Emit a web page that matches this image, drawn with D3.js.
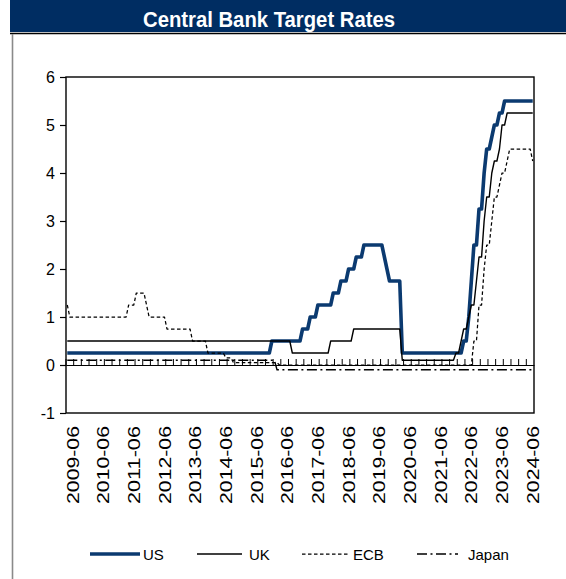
<!DOCTYPE html>
<html>
<head>
<meta charset="utf-8">
<script src="https://cdn.jsdelivr.net/npm/d3@7/dist/d3.min.js"></script>
<style>
  html, body { margin: 0; padding: 0; background: #fff; }
  svg { display: block; font-family: "Liberation Sans", Arial, sans-serif; }
</style>
</head>
<body>
<svg id="chart" width="566" height="579"></svg>
<script>
// Month-end policy rates, April 2009 to June 2024 (one row per calendar year)
const firstYear = 2009, firstMonth = 4, lastYear = 2024, lastMonth = 6;

const usRate = [
  0.25,0.25,0.25,0.25,0.25,0.25,0.25,0.25,0.25,                               // 2009 Apr-Dec
  0.25,0.25,0.25,0.25,0.25,0.25,0.25,0.25,0.25,0.25,0.25,0.25,                // 2010
  0.25,0.25,0.25,0.25,0.25,0.25,0.25,0.25,0.25,0.25,0.25,0.25,                // 2011
  0.25,0.25,0.25,0.25,0.25,0.25,0.25,0.25,0.25,0.25,0.25,0.25,                // 2012
  0.25,0.25,0.25,0.25,0.25,0.25,0.25,0.25,0.25,0.25,0.25,0.25,                // 2013
  0.25,0.25,0.25,0.25,0.25,0.25,0.25,0.25,0.25,0.25,0.25,0.25,                // 2014
  0.25,0.25,0.25,0.25,0.25,0.25,0.25,0.25,0.25,0.25,0.25,0.5,                 // 2015
  0.5,0.5,0.5,0.5,0.5,0.5,0.5,0.5,0.5,0.5,0.5,0.75,                           // 2016
  0.75,0.75,1.0,1.0,1.0,1.25,1.25,1.25,1.25,1.25,1.25,1.5,                    // 2017
  1.5,1.5,1.75,1.75,1.75,2.0,2.0,2.0,2.25,2.25,2.25,2.5,                      // 2018
  2.5,2.5,2.5,2.5,2.5,2.5,2.5,2.25,2.0,1.75,1.75,1.75,                        // 2019
  1.75,1.75,0.25,0.25,0.25,0.25,0.25,0.25,0.25,0.25,0.25,0.25,                // 2020
  0.25,0.25,0.25,0.25,0.25,0.25,0.25,0.25,0.25,0.25,0.25,0.25,                // 2021
  0.25,0.25,0.5,0.5,1.0,1.75,2.5,2.5,3.25,3.25,4.0,4.5,                       // 2022
  4.5,4.75,5.0,5.0,5.25,5.25,5.5,5.5,5.5,5.5,5.5,5.5,                         // 2023
  5.5,5.5,5.5,5.5,5.5,5.5                                                     // 2024 Jan-Jun
];

const ukRate = [
  0.5,0.5,0.5,0.5,0.5,0.5,0.5,0.5,0.5,                                        // 2009
  0.5,0.5,0.5,0.5,0.5,0.5,0.5,0.5,0.5,0.5,0.5,0.5,                            // 2010
  0.5,0.5,0.5,0.5,0.5,0.5,0.5,0.5,0.5,0.5,0.5,0.5,                            // 2011
  0.5,0.5,0.5,0.5,0.5,0.5,0.5,0.5,0.5,0.5,0.5,0.5,                            // 2012
  0.5,0.5,0.5,0.5,0.5,0.5,0.5,0.5,0.5,0.5,0.5,0.5,                            // 2013
  0.5,0.5,0.5,0.5,0.5,0.5,0.5,0.5,0.5,0.5,0.5,0.5,                            // 2014
  0.5,0.5,0.5,0.5,0.5,0.5,0.5,0.5,0.5,0.5,0.5,0.5,                            // 2015
  0.5,0.5,0.5,0.5,0.5,0.5,0.5,0.25,0.25,0.25,0.25,0.25,                       // 2016
  0.25,0.25,0.25,0.25,0.25,0.25,0.25,0.25,0.25,0.25,0.5,0.5,                  // 2017
  0.5,0.5,0.5,0.5,0.5,0.5,0.5,0.75,0.75,0.75,0.75,0.75,                       // 2018
  0.75,0.75,0.75,0.75,0.75,0.75,0.75,0.75,0.75,0.75,0.75,0.75,                // 2019
  0.75,0.75,0.1,0.1,0.1,0.1,0.1,0.1,0.1,0.1,0.1,0.1,                          // 2020
  0.1,0.1,0.1,0.1,0.1,0.1,0.1,0.1,0.1,0.1,0.1,0.25,                           // 2021
  0.25,0.5,0.75,0.75,1.0,1.25,1.25,1.75,2.25,2.25,3.0,3.5,                    // 2022
  3.5,4.0,4.25,4.25,4.5,5.0,5.0,5.25,5.25,5.25,5.25,5.25,                     // 2023
  5.25,5.25,5.25,5.25,5.25,5.25                                               // 2024
];

const ecbRate = [
  1.25,1.0,1.0,1.0,1.0,1.0,1.0,1.0,1.0,                                       // 2009
  1.0,1.0,1.0,1.0,1.0,1.0,1.0,1.0,1.0,1.0,1.0,1.0,                            // 2010
  1.0,1.0,1.0,1.25,1.25,1.25,1.5,1.5,1.5,1.5,1.25,1.0,                        // 2011
  1.0,1.0,1.0,1.0,1.0,1.0,0.75,0.75,0.75,0.75,0.75,0.75,                      // 2012
  0.75,0.75,0.75,0.75,0.5,0.5,0.5,0.5,0.5,0.5,0.25,0.25,                      // 2013
  0.25,0.25,0.25,0.25,0.25,0.15,0.15,0.15,0.05,0.05,0.05,0.05,                // 2014
  0.05,0.05,0.05,0.05,0.05,0.05,0.05,0.05,0.05,0.05,0.05,0.05,                // 2015
  0.05,0.05,0,0,0,0,0,0,0,0,0,0,                                              // 2016
  0,0,0,0,0,0,0,0,0,0,0,0,                                                    // 2017
  0,0,0,0,0,0,0,0,0,0,0,0,                                                    // 2018
  0,0,0,0,0,0,0,0,0,0,0,0,                                                    // 2019
  0,0,0,0,0,0,0,0,0,0,0,0,                                                    // 2020
  0,0,0,0,0,0,0,0,0,0,0,0,                                                    // 2021
  0,0,0,0,0,0,0.5,0.5,1.25,1.25,2.0,2.5,                                      // 2022
  2.5,3.0,3.5,3.5,3.75,4.0,4.0,4.25,4.5,4.5,4.5,4.5,                          // 2023
  4.5,4.5,4.5,4.5,4.5,4.25                                                    // 2024
];

const japanRate = [
  0.1,0.1,0.1,0.1,0.1,0.1,0.1,0.1,0.1,                                        // 2009
  0.1,0.1,0.1,0.1,0.1,0.1,0.1,0.1,0.1,0.1,0.1,0.1,                            // 2010
  0.1,0.1,0.1,0.1,0.1,0.1,0.1,0.1,0.1,0.1,0.1,0.1,                            // 2011
  0.1,0.1,0.1,0.1,0.1,0.1,0.1,0.1,0.1,0.1,0.1,0.1,                            // 2012
  0.1,0.1,0.1,0.1,0.1,0.1,0.1,0.1,0.1,0.1,0.1,0.1,                            // 2013
  0.1,0.1,0.1,0.1,0.1,0.1,0.1,0.1,0.1,0.1,0.1,0.1,                            // 2014
  0.1,0.1,0.1,0.1,0.1,0.1,0.1,0.1,0.1,0.1,0.1,0.1,                            // 2015
  0.1,-0.1,-0.1,-0.1,-0.1,-0.1,-0.1,-0.1,-0.1,-0.1,-0.1,-0.1,                 // 2016
  -0.1,-0.1,-0.1,-0.1,-0.1,-0.1,-0.1,-0.1,-0.1,-0.1,-0.1,-0.1,                // 2017
  -0.1,-0.1,-0.1,-0.1,-0.1,-0.1,-0.1,-0.1,-0.1,-0.1,-0.1,-0.1,                // 2018
  -0.1,-0.1,-0.1,-0.1,-0.1,-0.1,-0.1,-0.1,-0.1,-0.1,-0.1,-0.1,                // 2019
  -0.1,-0.1,-0.1,-0.1,-0.1,-0.1,-0.1,-0.1,-0.1,-0.1,-0.1,-0.1,                // 2020
  -0.1,-0.1,-0.1,-0.1,-0.1,-0.1,-0.1,-0.1,-0.1,-0.1,-0.1,-0.1,                // 2021
  -0.1,-0.1,-0.1,-0.1,-0.1,-0.1,-0.1,-0.1,-0.1,-0.1,-0.1,-0.1,                // 2022
  -0.1,-0.1,-0.1,-0.1,-0.1,-0.1,-0.1,-0.1,-0.1,-0.1,-0.1,-0.1,                // 2023
  -0.1,-0.1,-0.1,-0.1,-0.1,-0.1                                               // 2024
];

const yTicks = [-1, 0, 1, 2, 3, 4, 5, 6];
const seriesNames = ["US", "UK", "ECB", "Japan"];
const titleText = "Central Bank Target Rates";

// Month categories "YYYY-MM"
const months = [];
for (let y = firstYear, m = firstMonth; y < lastYear || (y === lastYear && m <= lastMonth); ) {
  months.push(y + "-" + String(m).padStart(2, "0"));
  m++; if (m > 12) { m = 1; y++; }
}
const xLabels = months.filter(d => d.endsWith("-06"));
const quarterTicks = months.filter((d, i) => i % 3 === 0);

// Styles per series
const styles = {
  US:    { values: usRate,    color: "#0b3a70", width: 3.6, dash: null },
  UK:    { values: ukRate,    color: "#000",    width: 1.4, dash: null },
  ECB:   { values: ecbRate,   color: "#000",    width: 1.25, dash: "3.5,2.5" },
  Japan: { values: japanRate, color: "#000",    width: 1.4, dash: "10,3.5,2,3.5" }
};

const svg = d3.select("#chart");
const W = 566, H = 579;
const plot = { left: 66, right: 534, top: 77, bottom: 413 };

// Frame: title bar, rule and left border
svg.append("rect").attr("x", 10).attr("y", 0).attr("width", W - 10).attr("height", 32).attr("fill", "#002d62");
svg.append("line").attr("x1", 10).attr("x2", W).attr("y1", 33.5).attr("y2", 33.5).attr("stroke", "#000").attr("stroke-width", 1.4);
svg.append("line").attr("x1", 12.5).attr("x2", 12.5).attr("y1", 34).attr("y2", H).attr("stroke", "#8a8a8a").attr("stroke-width", 1.6);
svg.append("text").attr("x", 269).attr("y", 27).attr("text-anchor", "middle")
  .attr("fill", "#fff").attr("font-size", 22.5).attr("font-weight", "bold")
  .attr("textLength", 252).attr("lengthAdjust", "spacingAndGlyphs")
  .text(titleText);

const x = d3.scaleBand().domain(months).range([plot.left, plot.right]).padding(0);
const y = d3.scaleLinear().domain([-1, 6]).range([plot.bottom, plot.top]);
const cx = d => x(d) + x.bandwidth() / 2;

// Y axis
const yAxis = svg.append("g").attr("transform", `translate(${plot.left},0)`)
  .call(d3.axisLeft(y).tickValues(yTicks).tickFormat(d => String(d)).tickSize(6).tickPadding(5));
yAxis.select(".domain").remove();
yAxis.selectAll("line").attr("stroke", "#000").attr("stroke-width", 1.2);
yAxis.selectAll("text").attr("font-size", 16).attr("fill", "#000").attr("font-family", "Liberation Sans, Arial, sans-serif");

// Category axis crossing at zero, with quarterly tick marks
const zeroAxis = svg.append("g").attr("transform", `translate(0,${y(0)})`)
  .call(d3.axisBottom(x).tickValues(quarterTicks).tickSizeInner(-6).tickSizeOuter(0).tickFormat(""));
zeroAxis.selectAll(".tick").attr("transform", d => `translate(${x(d)},0)`);
zeroAxis.selectAll("line").attr("stroke", "#000").attr("stroke-width", 1).attr("y2", -6).attr("y1", 1);
zeroAxis.select(".domain").attr("stroke", "#000").attr("stroke-width", 1.2);

// Date labels below the plot
const labelAxis = svg.append("g").attr("transform", `translate(0,${plot.bottom})`)
  .call(d3.axisBottom(x).tickValues(xLabels).tickSize(0));
labelAxis.select(".domain").remove();
labelAxis.selectAll("text")
  .attr("font-size", 17).attr("fill", "#000").attr("font-family", "Liberation Sans, Arial, sans-serif")
  .attr("text-anchor", "end")
  .attr("transform", "rotate(-90)")
  .attr("x", -13).attr("y", 0).attr("dy", "0.36em")
  .attr("textLength", 78).attr("lengthAdjust", "spacingAndGlyphs");

// Series lines
const line = d3.line().x((v, i) => cx(months[i])).y(v => y(v));
seriesNames.forEach(name => {
  const s = styles[name];
  svg.append("path").datum(s.values)
    .attr("d", line)
    .attr("fill", "none")
    .attr("stroke", s.color)
    .attr("stroke-width", s.width)
    .attr("stroke-linejoin", "round")
    .attr("stroke-dasharray", s.dash);
});

// Plot border
svg.append("rect").attr("x", plot.left).attr("y", plot.top)
  .attr("width", plot.right - plot.left).attr("height", plot.bottom - plot.top)
  .attr("fill", "none").attr("stroke", "#000").attr("stroke-width", 1.4);

// Legend
const legendItems = [
  { name: "US",    x1: 90,  x2: 140, tx: 143 },
  { name: "UK",    x1: 197, x2: 242, tx: 249 },
  { name: "ECB",   x1: 302, x2: 348, tx: 353 },
  { name: "Japan", x1: 417, x2: 458, tx: 468 }
];
const legendY = 554;
const lg = svg.append("g");
legendItems.forEach(it => {
  const s = styles[it.name];
  lg.append("line").attr("x1", it.x1).attr("x2", it.x2).attr("y1", legendY).attr("y2", legendY)
    .attr("stroke", s.color).attr("stroke-width", s.width).attr("stroke-dasharray", s.dash);
  lg.append("text").attr("x", it.tx).attr("y", legendY + 5.5).attr("font-size", 15).attr("fill", "#000")
    .text(it.name);
});
</script>
</body>
</html>
